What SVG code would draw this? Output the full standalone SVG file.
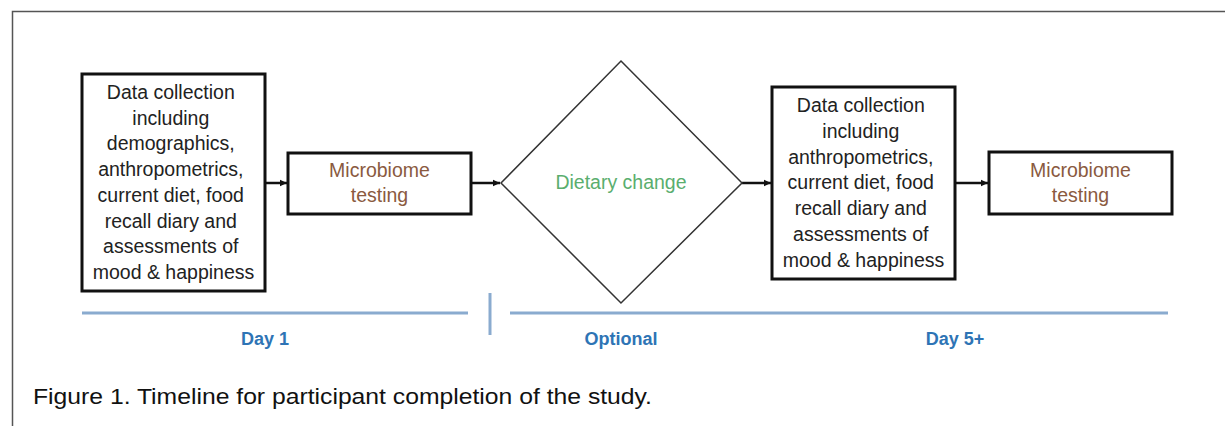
<svg xmlns="http://www.w3.org/2000/svg" width="1225" height="426" viewBox="0 0 1225 426">
<defs>
<marker id="ah" markerWidth="8" markerHeight="8" refX="7" refY="4" orient="auto" markerUnits="userSpaceOnUse">
<path d="M0,0.8 L7,4 L0,7.2 Z" fill="#111"/>
</marker>
<style>
.box{fill:#fff;stroke:#111;stroke-width:3}
.t{font-family:"Liberation Sans",Arial,sans-serif;font-size:19.5px;fill:#222;text-anchor:middle}
.mb{fill:#8a5a40}
.dc{fill:#5aae6e}
.lbl{font-family:"Liberation Sans",Arial,sans-serif;font-size:18px;font-weight:bold;fill:#2e74b5;text-anchor:middle}
.tl{stroke:#8aabcf;stroke-width:3;fill:none}
.con{stroke:#111;stroke-width:2.5;fill:none;marker-end:url(#ah)}
</style>
</defs>
<rect width="1225" height="426" fill="#fff"/>
<path d="M12.5,426 V11.5 H1225" fill="none" stroke="#555" stroke-width="1.5"/>

<g id="connectors">
<line class="con" x1="266" y1="183" x2="287" y2="183"/>
<line class="con" x1="472" y1="183" x2="500" y2="183"/>
<line class="con" x1="742" y1="183" x2="771" y2="183"/>
<line class="con" x1="956" y1="183" x2="988" y2="183"/>
</g>

<g id="node-data1">
<rect class="box" x="82" y="74" width="183" height="217"/>
<text class="t">
<tspan x="173.5" y="99">Data collection</tspan>
<tspan x="173.5" y="124.7">including</tspan>
<tspan x="173.5" y="150.4">demographics,</tspan>
<tspan x="173.5" y="176.1">anthropometrics,</tspan>
<tspan x="173.5" y="201.8">current diet, food</tspan>
<tspan x="173.5" y="227.5">recall diary and</tspan>
<tspan x="173.5" y="253.2">assessments of</tspan>
<tspan x="173.5" y="278.9">mood &amp; happiness</tspan>
</text>
</g>

<g id="node-micro1">
<rect class="box" x="288" y="153" width="183" height="61"/>
<text class="t mb"><tspan x="379.5" y="177">Microbiome</tspan><tspan x="379.5" y="202">testing</tspan></text>
</g>

<g id="node-diet">
<polygon points="621,61 742,183 621,303 501,183" fill="#fff" stroke="#333" stroke-width="1.5"/>
<text class="t dc" x="621" y="189">Dietary change</text>
</g>

<g id="node-data2">
<rect class="box" x="772" y="87" width="183" height="192"/>
<text class="t">
<tspan x="863.5" y="112">Data collection</tspan>
<tspan x="863.5" y="137.8">including</tspan>
<tspan x="863.5" y="163.6">anthropometrics,</tspan>
<tspan x="863.5" y="189.4">current diet, food</tspan>
<tspan x="863.5" y="215.2">recall diary and</tspan>
<tspan x="863.5" y="241">assessments of</tspan>
<tspan x="863.5" y="266.8">mood &amp; happiness</tspan>
</text>
</g>

<g id="node-micro2">
<rect class="box" x="989" y="152" width="183" height="62"/>
<text class="t mb"><tspan x="1080.5" y="177">Microbiome</tspan><tspan x="1080.5" y="202">testing</tspan></text>
</g>

<g id="timeline">
<line class="tl" x1="82" y1="313" x2="468" y2="313"/>
<line class="tl" x1="490" y1="293" x2="490" y2="335"/>
<line class="tl" x1="510" y1="313" x2="1168" y2="313"/>
<text class="lbl" x="265" y="345">Day 1</text>
<text class="lbl" x="621" y="345">Optional</text>
<text class="lbl" x="955" y="345">Day 5+</text>
</g>

<text x="33" y="404" font-family="Liberation Sans, Arial, sans-serif" font-size="22" fill="#111" textLength="619" lengthAdjust="spacingAndGlyphs">Figure 1. Timeline for participant completion of the study.</text>
</svg>
